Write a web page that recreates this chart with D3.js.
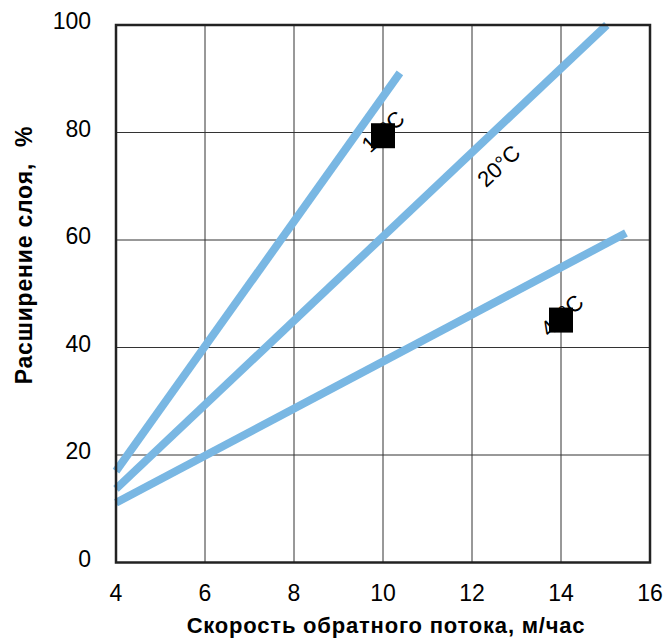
<!DOCTYPE html>
<html><head><meta charset="utf-8">
<script src="https://cdn.jsdelivr.net/npm/d3@7"></script>
<style>body{margin:0;background:#fff}</style>
</head><body>
<svg id="c" width="669" height="640"></svg>
<script>
const xTicks = [4, 6, 8, 10, 12, 14, 16];
const yTicks = [0, 20, 40, 60, 80, 100];
const lineNames = ["10°C", "20°C", "40°C"];
const line10 = [[4, 17.0], [10.38, 91.1]];
const line20 = [[4, 13.7], [15.03, 100.0]];
const line40 = [[4, 11.1], [15.46, 61.3]];
const points = [[10, 79.4], [14, 45.1]];
const labels = [
  {text: "10°C", x: 10.0, y: 80.2},
  {text: "20°C", x: 12.6, y: 73.8},
  {text: "40°C", x: 14.02, y: 46.0}
];

const svg = d3.select("#c");
const x = d3.scaleLinear().domain([4, 16]).range([116, 650]);
const y = d3.scaleLinear().domain([0, 100]).range([562.5, 25]);
const font = "'Liberation Sans', Arial, Helvetica, sans-serif";

// grid
svg.append("g").selectAll("line").data(xTicks.slice(1, -1)).join("line")
  .attr("x1", d => x(d)).attr("x2", d => x(d)).attr("y1", y(0)).attr("y2", y(100))
  .attr("stroke", "#333").attr("stroke-width", 1);
svg.append("g").selectAll("line").data(yTicks.slice(1, -1)).join("line")
  .attr("y1", d => y(d)).attr("y2", d => y(d)).attr("x1", x(4)).attr("x2", x(16))
  .attr("stroke", "#333").attr("stroke-width", 1);

// labels (under the markers)
svg.append("g").selectAll("text").data(labels).join("text")
  .attr("transform", d => `translate(${x(d.x)},${y(d.y)}) rotate(-43)`)
  .attr("text-anchor", "middle").attr("dy", "0.35em")
  .attr("font-family", font).attr("font-size", 22).attr("fill", "#000")
  .text(d => d.text);

// lines
const lineGen = d3.line().x(d => x(d[0])).y(d => y(d[1]));
svg.append("g").selectAll("path").data([line10, line20, line40]).join("path")
  .attr("d", lineGen).attr("fill", "none")
  .attr("stroke", "#79b7e3").attr("stroke-width", 8);

// markers
svg.append("g").selectAll("rect").data(points).join("rect")
  .attr("x", d => x(d[0]) - 12).attr("y", d => y(d[1]) - 12.5)
  .attr("width", 24).attr("height", 25).attr("fill", "#000");

// frame
svg.append("rect").attr("x", x(4)).attr("y", y(100))
  .attr("width", x(16) - x(4)).attr("height", y(0) - y(100))
  .attr("fill", "none").attr("stroke", "#222").attr("stroke-width", 2.5);

// tick labels
svg.append("g").selectAll("text").data(xTicks).join("text")
  .attr("x", d => x(d)).attr("y", 601).attr("text-anchor", "middle")
  .attr("font-family", font).attr("font-size", 23).text(d => d);
svg.append("g").selectAll("text").data(yTicks).join("text")
  .attr("x", 91).attr("y", d => y(d) - 4).attr("dy", "0.35em").attr("text-anchor", "end")
  .attr("font-family", font).attr("font-size", 23).text(d => d);

// axis titles
svg.append("text").attr("x", 386).attr("y", 633).attr("text-anchor", "middle")
  .attr("font-family", font).attr("font-weight", "bold").attr("font-size", 22)
  .attr("letter-spacing", 0.8)
  .text("Скорость обратного потока, м/час");
const yt = svg.append("text").attr("transform", "translate(32,255) rotate(-90)")
  .attr("text-anchor", "middle")
  .attr("font-family", font).attr("font-weight", "bold").attr("font-size", 23)
  .attr("letter-spacing", 0.8);
yt.append("tspan").text("Расширение слоя,");
yt.append("tspan").attr("dx", 16).text("%");
</script>
</body></html>
